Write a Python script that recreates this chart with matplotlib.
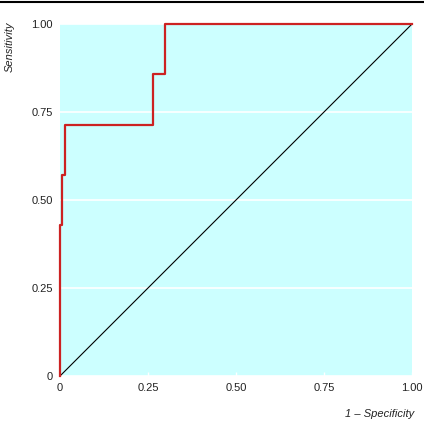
import matplotlib
matplotlib.use("Agg")
import matplotlib.pyplot as plt
from matplotlib.lines import Line2D

# ROC curve data (1 - specificity, sensitivity)
fpr = [0.0, 0.0, 0.007, 0.007, 0.014, 0.014, 0.264, 0.264, 0.298, 0.298, 1.0]
tpr = [0.0, 0.4286, 0.4286, 0.5714, 0.5714, 0.7143, 0.7143, 0.8571, 0.8571, 1.0, 1.0]
ref_x = [0.0, 1.0]
ref_y = [0.0, 1.0]
ticks = [0, 0.25, 0.5, 0.75, 1.0]
tick_labels = ["0", "0.25", "0.50", "0.75", "1.00"]

plt.rcParams['font.family'] = ['Liberation Sans', 'DejaVu Sans']

fig = plt.figure(figsize=(4.24, 4.28), dpi=100)
ax = fig.add_axes([60/424, 52/428, 352/424, 352/428])
ax.set_facecolor('#ccffff')
for s in ax.spines.values():
    s.set_visible(False)

ax.set_xlim(0, 1)
ax.set_ylim(0, 1)
ax.set_xticks(ticks)
ax.set_xticklabels(tick_labels)
ax.set_yticks(ticks)
ax.set_yticklabels(tick_labels)
ax.tick_params(axis='y', length=0, pad=5, labelsize=8, colors='#222222')
ax.tick_params(axis='x', direction='in', length=3, width=1, color='white', pad=5,
               labelsize=8, labelcolor='#222222')
ax.yaxis.grid(True, color='white', linewidth=1.2)
ax.set_axisbelow(True)

ax.plot(ref_x, ref_y, color='black', linewidth=0.8, zorder=3)
ax.plot(fpr, tpr, color='#cc2222', linewidth=1.6, zorder=4, clip_on=False)

fig.text(10/424, 1 - 47/428, 'Sensitivity', rotation=90, ha='center', va='center',
         fontsize=8, style='italic', color='#222222')
fig.text(414/424, 1 - 414/428, '1 \u2013 Specificity', ha='right', va='center',
         fontsize=8, style='italic', color='#222222')

fig.add_artist(Line2D([0, 1], [1 - 1.5/428, 1 - 1.5/428], color='black', linewidth=1.5,
                      transform=fig.transFigure))

fig.savefig('out.png', dpi=100)
